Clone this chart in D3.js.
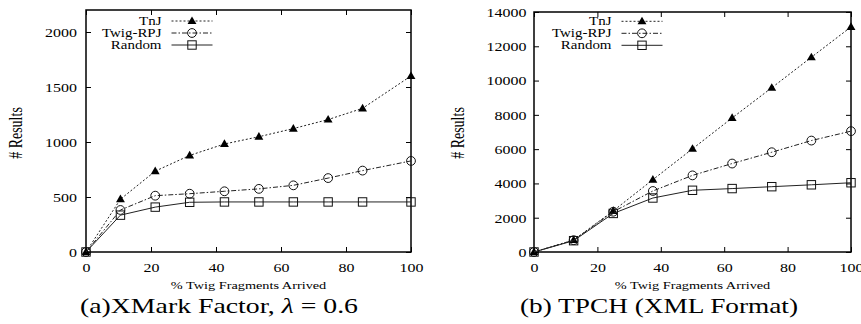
<!DOCTYPE html>
<html>
<head>
<meta charset="utf-8">
<script src="https://cdn.jsdelivr.net/npm/d3@7"></script>
<style>
  body { margin: 0; background: #fff; }
  svg { display: block; }
  text { font-family: "Liberation Serif", "DejaVu Serif", serif; fill: #000; }
</style>
</head>
<body>
<div id="chart"></div>
<script>
// ---- data ----
var seriesNames = ["TnJ", "Twig-RPJ", "Random"];

// (a) XMark
var xA = [0, 10.6, 21.3, 31.9, 42.6, 53.2, 63.8, 74.5, 85.1, 100];
var tnjA = [0, 480, 735, 878, 982, 1048, 1122, 1204, 1306, 1600];
var rpjA = [0, 382, 512, 530, 552, 574, 606, 672, 740, 828];
var rndA = [0, 335, 408, 452, 455, 455, 455, 455, 455, 455];
var yTicksA = [0, 500, 1000, 1500, 2000];

// (b) TPCH
var xB = [0, 12.5, 25, 37.5, 50, 62.5, 75, 87.5, 100];
var tnjB = [0, 700, 2400, 4220, 6020, 7820, 9580, 11360, 13130];
var rpjB = [0, 690, 2350, 3560, 4470, 5160, 5820, 6500, 7050];
var rndB = [0, 660, 2250, 3150, 3600, 3700, 3810, 3920, 4040];
var yTicksB = [0, 2000, 4000, 6000, 8000, 10000, 12000, 14000];

var xTicks = [0, 20, 40, 60, 80, 100];

// ---- set-up ----
var W = 861, H = 324;
var stretch = 1.3;   // gnuplot text in the figure is stretched sideways

var svg = d3.select("#chart").append("svg")
  .attr("width", W)
  .attr("height", H);

var styles = [
  {dash: "2,2", marker: "triangle"},
  {dash: "5,2,1.5,2", marker: "circle"},
  {dash: null, marker: "square"}
];

function drawMarker(g, kind, x, y) {
  if (kind == "triangle") {
    g.append("path")
      .attr("d", d3.symbol(d3.symbolTriangle, 34)())
      .attr("transform", "translate(" + x + "," + (y + 0.5) + ")")
      .attr("fill", "#000");
  } else if (kind == "circle") {
    g.append("circle")
      .attr("cx", x).attr("cy", y).attr("r", 4.4)
      .attr("fill", "none").attr("stroke", "#111").attr("stroke-width", 1);
  } else {
    g.append("rect")
      .attr("x", x - 4.2).attr("y", y - 4.2)
      .attr("width", 8.4).attr("height", 8.4)
      .attr("fill", "none").attr("stroke", "#111").attr("stroke-width", 1);
  }
}

function panel(cfg) {
  var x = d3.scaleLinear().domain([0, 100]).range([cfg.left, cfg.right]);
  var y = d3.scaleLinear().domain([0, cfg.ymax]).range([cfg.bottom, cfg.top]);
  var g = svg.append("g");
  var fmt = d3.format("d");

  // axes, ticks inward on all four sides
  var bottom = g.append("g").attr("transform", "translate(0," + cfg.bottom + ")")
    .call(d3.axisBottom(x).tickValues(xTicks).tickFormat(fmt).tickSizeInner(-5).tickSizeOuter(0));
  g.append("g").attr("transform", "translate(0," + cfg.top + ")")
    .call(d3.axisTop(x).tickValues(xTicks).tickSizeInner(-5).tickSizeOuter(0).tickFormat(""));
  var left = g.append("g").attr("transform", "translate(" + cfg.left + ",0)")
    .call(d3.axisLeft(y).tickValues(cfg.yTicks).tickFormat(fmt).tickSizeInner(-5).tickSizeOuter(0));
  g.append("g").attr("transform", "translate(" + cfg.right + ",0)")
    .call(d3.axisRight(y).tickValues(cfg.yTicks).tickSizeInner(-5).tickSizeOuter(0).tickFormat(""));

  g.selectAll(".domain").remove();
  g.selectAll(".tick line").attr("stroke", "#000").attr("stroke-width", 1);

  bottom.selectAll("text")
    .attr("y", 0).attr("dy", "0")
    .attr("font-family", null).attr("font-size", null)
    .attr("transform", "translate(0,19.5) scale(" + stretch + ",1)")
    .style("font-size", "12.3px");
  left.selectAll("text")
    .attr("x", 0).attr("dy", "0")
    .attr("transform", "translate(-" + cfg.ypad + ",4.3) scale(" + stretch + ",1)")
    .style("font-size", "12.3px");

  // frame
  g.append("rect")
    .attr("x", cfg.left).attr("y", cfg.top)
    .attr("width", cfg.right - cfg.left).attr("height", cfg.bottom - cfg.top)
    .attr("fill", "none").attr("stroke", "#000").attr("stroke-width", 1.5);

  // lines
  var line = d3.line()
    .x(function(d) { return x(d[0]); })
    .y(function(d) { return y(d[1]); });

  cfg.series.forEach(function(vals, i) {
    var pts = cfg.xs.map(function(v, j) { return [v, vals[j]]; });
    g.append("path")
      .datum(pts)
      .attr("d", line)
      .attr("fill", "none")
      .attr("stroke", "#222")
      .attr("stroke-width", 1)
      .attr("stroke-dasharray", styles[i].dash);
    pts.forEach(function(p) { drawMarker(g, styles[i].marker, x(p[0]), y(p[1])); });
  });

  // legend
  seriesNames.forEach(function(name, i) {
    var ly = cfg.legendY + i * 12;
    g.append("text")
      .attr("text-anchor", "end")
      .attr("transform", "translate(" + cfg.legendX + "," + (ly + 3.8) + ") scale(" + stretch + ",1)")
      .style("font-size", "11.5px")
      .text(name);
    g.append("line")
      .attr("x1", cfg.legendX + 10).attr("x2", cfg.legendX + 51)
      .attr("y1", ly).attr("y2", ly)
      .attr("stroke", "#222").attr("stroke-width", 1)
      .attr("stroke-dasharray", styles[i].dash);
    drawMarker(g, styles[i].marker, cfg.legendX + 30.5, ly);
  });

  // axis titles
  var cx = (cfg.left + cfg.right) / 2;
  g.append("text")
    .attr("text-anchor", "middle")
    .attr("transform", "translate(" + cx + ",289) scale(" + stretch + ",1)")
    .style("font-size", "11px")
    .text("% Twig Fragments Arrived");

  g.append("text")
    .attr("text-anchor", "middle")
    .attr("transform", "translate(" + cfg.ylabelX + ",133) rotate(-90) scale(1," + stretch + ")")
    .style("font-size", "14px")
    .text("# Results");

  // caption
  var cap = g.append("text")
    .attr("x", cfg.capX).attr("y", 313)
    .attr("text-anchor", "middle")
    .attr("textLength", 278)
    .attr("lengthAdjust", "spacingAndGlyphs")
    .style("font-size", "21px");
  cfg.caption(cap);
}

panel({
  left: 86, right: 411, top: 10, bottom: 252,
  ymax: 2200, yTicks: yTicksA, ypad: 9,
  xs: xA, series: [tnjA, rpjA, rndA],
  legendX: 161.5, legendY: 21,
  ylabelX: 22, capX: 219,
  caption: function(t) {
    t.append("tspan").text("(a)XMark Factor, ");
    t.append("tspan").style("font-style", "italic").text("\u03BB");
    t.append("tspan").text(" = 0.6");
  }
});

panel({
  left: 534, right: 851, top: 12, bottom: 252,
  ymax: 14000, yTicks: yTicksB, ypad: 7.5,
  xs: xB, series: [tnjB, rpjB, rndB],
  legendX: 611.5, legendY: 21.3,
  ylabelX: 464, capX: 659,
  caption: function(t) {
    t.text("(b) TPCH (XML Format)");
  }
});
</script>
</body>
</html>
